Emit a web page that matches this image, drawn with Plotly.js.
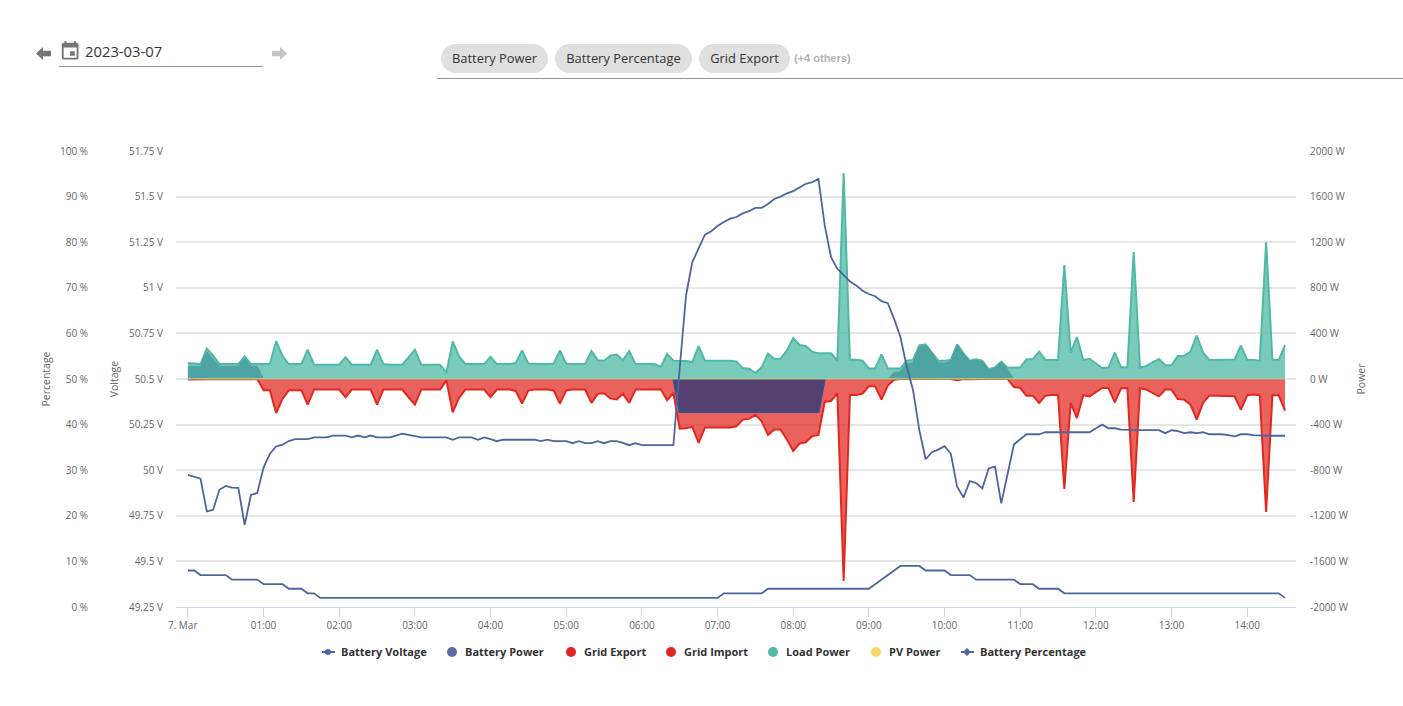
<!DOCTYPE html>
<html>
<head>
<meta charset="utf-8">
<title>Battery chart</title>
<script src="https://cdn.plot.ly/plotly-3.0.1.min.js"></script>
<style>
html,body{margin:0;padding:0;background:#fff;width:1403px;height:706px;overflow:hidden;font-family:"Open Sans",sans-serif;}
#chart{position:absolute;left:0;top:0;width:1403px;height:706px;}
.abs{position:absolute;z-index:5;}
.chip{position:absolute;top:44px;height:29px;line-height:29px;border-radius:15px;background:#e0e0e0;color:#333;font-size:12.9px;text-align:center;z-index:5;}
</style>
</head>
<body>
<div id="chart"></div>
<svg class="abs" style="left:36px;top:47px" width="15" height="13" viewBox="0 0 15 14" preserveAspectRatio="none"><polygon points="0,7 7,0 7,4 15,4 15,10 7,10 7,14" fill="#757575"/></svg>
<svg class="abs" style="left:59px;top:40px" width="22.3" height="22.3" viewBox="0 0 24 24"><path fill="#757575" d="M17 12h-5v5h5v-5zM16 1v2H8V1H6v2H5c-1.11 0-1.99.9-1.99 2L3 19c0 1.1.89 2 2 2h14c1.1 0 2-.9 2-2V5c0-1.1-.9-2-2-2h-1V1h-2zm3 18H5V8h14v11z"/></svg>
<div class="abs" style="left:85px;top:40px;font-size:14.8px;line-height:22px;color:#333">2023-03-07</div>
<div class="abs" style="left:59px;top:66px;width:204px;height:1px;background:#949494"></div>
<svg class="abs" style="left:272px;top:47px" width="15" height="13" viewBox="0 0 15 14" preserveAspectRatio="none"><polygon points="15,7 8,0 8,4 0,4 0,10 8,10 8,14" fill="#c4c4c4"/></svg>
<div class="chip" style="left:441px;width:107px">Battery Power</div>
<div class="chip" style="left:555px;width:137px">Battery Percentage</div>
<div class="chip" style="left:699px;width:91px">Grid Export</div>
<div class="abs" style="left:794px;top:50px;font-family:'Liberation Sans',sans-serif;font-weight:700;font-size:11px;line-height:16px;color:#b4b4b4">(+4 others)</div>
<div class="abs" style="left:437px;top:78px;width:966px;height:1px;background:#949494"></div>
<script>
const startTime = '2023-03-07T00:00:00';

const batteryVoltage = [
49.974,49.965,49.954,49.774,49.783,49.893,49.914,49.904,49.903,49.70,
49.864,49.875,50.015,50.09,50.13,50.14,50.16,50.17,50.17,50.17,
50.18,50.18,50.18,50.19,50.19,50.19,50.18,50.19,50.18,50.19,
50.18,50.18,50.18,50.19,50.2,50.194,50.188,50.18,50.18,50.18,
50.18,50.18,50.167,50.18,50.18,50.18,50.167,50.18,50.17,50.159,
50.167,50.167,50.167,50.167,50.167,50.167,50.159,50.167,50.159,50.159,
50.159,50.148,50.159,50.148,50.148,50.159,50.148,50.159,50.159,50.15,
50.137,50.148,50.137,50.137,50.137,50.137,50.137,50.137,50.56,50.958,
51.141,51.214,51.291,51.31,51.339,51.361,51.379,51.388,51.408,51.42,
51.438,51.438,51.46,51.487,51.5,51.518,51.53,51.55,51.57,51.579,
51.597,51.342,51.168,51.104,51.07,51.035,51.013,50.984,50.966,50.954,
50.927,50.916,50.83,50.73,50.567,50.44,50.22,50.06,50.099,50.113,
50.132,50.09,49.909,49.85,49.94,49.93,49.9,50.01,50.02,49.818,
49.98,50.141,50.17,50.197,50.197,50.197,50.208,50.208,50.208,50.208,
50.208,50.208,50.208,50.208,50.23,50.25,50.23,50.23,50.222,50.22,
50.22,50.22,50.22,50.22,50.22,50.203,50.219,50.214,50.203,50.208,
50.203,50.208,50.197,50.197,50.197,50.192,50.186,50.197,50.197,50.192,
50.189,50.189,50.189,50.189,50.189];

const loadPower = [
140,134,131,266,204,131,131,131,131,199,
131,131,131,131,330,204,131,131,131,257,
128,126,126,126,126,190,126,126,126,126,
257,131,126,126,126,190,257,126,126,126,
126,53,330,199,131,131,131,131,195,131,
131,131,140,250,135,131,131,131,135,250,
135,131,131,131,245,165,160,205,215,165,
245,131,131,131,131,108,219,161,161,158,
149,289,161,161,161,164,161,155,96,91,
53,102,222,178,178,251,359,298,289,240,
225,225,225,161,1807,169,169,161,93,93,
216,93,93,93,161,167,295,304,231,161,
161,167,304,225,161,173,161,85,102,152,
99,99,102,173,173,240,167,167,167,1000,
231,368,167,178,137,96,102,231,102,102,
1114,99,114,146,175,120,120,201,204,240,
380,231,167,167,167,172,172,292,167,167,
161,1201,167,167,298];

const gridImport = [
-4,-3,0,0,0,0,0,0,-2,-4,
-3,0,-99,-99,-298,-175,-99,-99,-99,-225,
-93,-93,-93,-93,-93,-160,-93,-93,-93,-93,
-225,-93,-93,-93,-93,-160,-225,-93,-93,-93,
-93,-12,-292,-166,-93,-93,-93,-93,-160,-93,
-93,-93,-105,-215,-100,-93,-93,-93,-100,-215,
-100,-93,-93,-93,-210,-130,-125,-170,-180,-130,
-210,-93,-93,-93,-93,-90,-187,-123,-435,-432,
-420,-560,-426,-426,-426,-428,-426,-415,-356,-350,
-315,-371,-490,-444,-444,-531,-631,-566,-555,-502,
-490,-199,-193,-123,-1771,-140,-140,-128,-64,-64,
-181,-58,-6,0,0,0,-4,-4,0,0,
0,0,-10,0,-3,0,0,0,0,0,
0,-70,-79,-146,-146,-210,-146,-140,-140,-965,
-210,-342,-143,-152,-114,-79,-79,-204,-82,-82,
-1079,-82,-93,-123,-152,-93,-93,-175,-181,-225,
-356,-210,-146,-146,-146,-152,-152,-269,-143,-137,
-143,-1167,-143,-143,-277];

const batteryPower = [
111,111,111,240,180,111,111,111,111,180,
111,111,0,0,0,0,0,0,0,0,
0,0,0,0,0,0,0,0,0,0,
0,0,0,0,0,0,0,0,0,0,
0,0,0,0,0,0,0,0,0,0,
0,0,0,0,0,0,0,0,0,0,
0,0,0,0,0,0,0,0,0,0,
0,0,0,0,0,0,0,0,-290,-290,
-290,-290,-290,-290,-290,-290,-290,-290,-290,-290,
-290,-290,-290,-290,-290,-290,-290,-290,-290,-290,
-290,0,0,0,0,0,0,0,0,0,
0,0,58,64,135,140,280,295,225,140,
140,155,295,220,155,165,150,76,93,145,
82,0,0,0,0,0,0,0,0,0,
0,0,0,0,0,0,0,0,0,0,
0,0,0,0,0,0,0,0,0,0,
0,0,0,0,0,0,0,0,0,0,
0,0,0,0,0];

const batteryPercentage = [
8,8,7,7,7,7,7,6,6,6,
6,6,5,5,5,5,4,4,4,3,
3,2,2,2,2,2,2,2,2,2,
2,2,2,2,2,2,2,2,2,2,
2,2,2,2,2,2,2,2,2,2,
2,2,2,2,2,2,2,2,2,2,
2,2,2,2,2,2,2,2,2,2,
2,2,2,2,2,2,2,2,2,2,
2,2,2,2,2,3,3,3,3,3,
3,3,4,4,4,4,4,4,4,4,
4,4,4,4,4,4,4,4,4,5,
6,7,8,9,9,9,9,8,8,8,
8,7,7,7,7,6,6,6,6,6,
6,6,5,5,5,4,4,4,4,3,
3,3,3,3,3,3,3,3,3,3,
3,3,3,3,3,3,3,3,3,3,
3,3,3,3,3,3,3,3,3,3,
3,3,3,3,2];

const pvPower = [
3,3,3,3,3,3,3,3,3,3,3,3,3,3,3,3,3,3,3,3,3,3,3,3,3,
3,3,3,3,3,3,3,3,3,3,3,3,3,3,3,3,3,3,3,3,3,3,3,3,3,
3,3,3,3,3,3,3,3,3,3,3,3,3,3,3,3,3,3,3,3,3,3,3,3,3,
3,3,3,3,3,3,3,3,3,3,3,3,3,3,3,3,3,3,3,3,3,3,3,3,3,
3,3,3,3,3,3,3,3,3,3,3,3,3,3,3,3,3,3,3,3,3,3,3,3,3,
3,3,3,3,3,3,3,3,3,3,3,3,3,3,3,3,3,3,3,3,3,3,3,3,3,
3,3,3,3,3,3,3,3,3,3,3,3,3,3,3,3,3,3,3,3,3,3,3,3,3];

const powerTicks = [2000,1600,1200,800,400,0,-400,-800,-1200,-1600,-2000];
const powerLabels = ['2000 W','1600 W','1200 W','800 W','400 W','0 W','-400 W','-800 W','-1200 W','-1600 W','-2000 W'];
const voltageTicks = [51.75,51.5,51.25,51,50.75,50.5,50.25,50,49.75,49.5,49.25];
const voltageLabels = ['51.75 V','51.5 V','51.25 V','51 V','50.75 V','50.5 V','50.25 V','50 V','49.75 V','49.5 V','49.25 V'];
const percentTicks = [100,90,80,70,60,50,40,30,20,10,0];
const percentLabels = ['100 %','90 %','80 %','70 %','60 %','50 %','40 %','30 %','20 %','10 %','0 %'];
const hourTicks = ['00','01','02','03','04','05','06','07','08','09','10','11','12','13','14'];
const hourLabels = ['7. Mar\u00a0\u00a0\u00a0\u00a0','01:00','02:00','03:00','04:00','05:00','06:00','07:00','08:00','09:00','10:00','11:00','12:00','13:00','14:00'];
const legendNames = ['Battery Voltage','Battery Power','Grid Export','Grid Import','Load Power','PV Power','Battery Percentage'];
const legendColors = ['#4d659e','#5a6da5','#e2261f','#e2261f','#4fb9a6','#f5d76e','#4d659e'];
const legendTextLeft = [341,465,584,684,786,889,980];

const t0 = new Date(startTime + 'Z').getTime();
const times = batteryVoltage.map((_, i) => new Date(t0 + i * 300000).toISOString().slice(0, 19));
const gridExport = times.map(() => 0);

function sideOf(arr, sign) {
  const on = arr.map(v => v * sign > 0);
  return arr.map((v, i) => (on[i] ? v : (on[i - 1] || on[i + 1]) ? 0 : null));
}
const tickFont = {family: '"Open Sans", sans-serif', size: 10, color: '#666666'};
const titleFont = {family: '"Open Sans", sans-serif', size: 10.5, color: '#666666'};

const area = (name, y, line, fill, width) => ({
  type: 'scatter', mode: 'lines', name, x: times, y, yaxis: 'y', showlegend: false,
  line: {color: line, width}, fill: 'tozeroy', fillcolor: fill, hoverinfo: 'x+y'
});
const traces = [
  area('Grid Export', gridExport, 'rgba(226,38,31,0.2)', 'rgba(226,38,31,0.75)', 1),
  area('Grid Import', gridImport, '#e2281f', 'rgba(226,38,31,0.72)', 2),
  area('Load Power', loadPower, '#4fb9a6', 'rgba(79,185,166,0.75)', 2),
  area('Battery Power', sideOf(batteryPower, 1), 'rgba(75,160,160,0.9)', 'rgba(49,137,147,0.6)', 1),
  area('Battery Power', sideOf(batteryPower, -1), '#3e4c8c', 'rgba(33,55,120,0.75)', 2),
  area('PV Power', pvPower, 'rgba(165,205,145,0.95)', 'rgba(245,215,110,0.4)', 1.5),
  {type: 'scatter', mode: 'lines', name: 'Battery Voltage', x: times, y: batteryVoltage, yaxis: 'y2',
   showlegend: false, line: {color: '#4d659e', width: 1.8}},
  {type: 'scatter', mode: 'lines', name: 'Battery Percentage', x: times, y: batteryPercentage, yaxis: 'y3',
   showlegend: false, line: {color: '#4d659e', width: 1.8}}
];

const layout = {
  width: 1403, height: 706, margin: {l: 0, r: 0, t: 0, b: 0, pad: 0},
  paper_bgcolor: '#ffffff', plot_bgcolor: 'rgba(0,0,0,0)', showlegend: true, hovermode: 'x',
  font: {family: '"Open Sans", sans-serif'},
  xaxis: {
    type: 'date', domain: [176 / 1403, 1296 / 1403],
    range: ['2023-03-06 23:50:34', '2023-03-07 14:38:42'],
    tickmode: 'array', tickvals: hourTicks.map(h => '2023-03-07 ' + h + ':00:00'), ticktext: hourLabels,
    ticks: 'outside', ticklen: 9, tickcolor: '#ccd6eb', tickwidth: 1, tickangle: 0,
    showline: true, linecolor: '#ccd6eb', linewidth: 1, showgrid: false, zeroline: false,
    tickfont: tickFont
  },
  yaxis: {
    domain: [1 - 607 / 706, 1 - 151 / 706], range: [-2000, 2000], side: 'right', anchor: 'x',
    tickmode: 'array', tickvals: powerTicks, ticktext: powerLabels,
    ticks: 'outside', ticklen: 11, tickcolor: 'rgba(0,0,0,0)',
    showgrid: true, gridcolor: '#e6e6e6', gridwidth: 1.5, zeroline: false, showline: false,
    tickfont: tickFont, title: {text: 'Power', font: titleFont, standoff: 9}
  },
  yaxis2: {
    domain: [1 - 607 / 706, 1 - 151 / 706], range: [49.25, 51.75], side: 'left', overlaying: 'y', anchor: 'x',
    tickmode: 'array', tickvals: voltageTicks, ticktext: voltageLabels,
    ticks: 'outside', ticklen: 10, tickcolor: 'rgba(0,0,0,0)',
    showgrid: false, zeroline: false, showline: false,
    tickfont: tickFont, title: {text: 'Voltage', font: titleFont, standoff: 8}
  },
  yaxis3: {
    domain: [1 - 607 / 706, 1 - 151 / 706], range: [0, 100], side: 'left', overlaying: 'y',
    anchor: 'free', position: 100 / 1403,
    tickmode: 'array', tickvals: percentTicks, ticktext: percentLabels,
    ticks: 'outside', ticklen: 10, tickcolor: 'rgba(0,0,0,0)',
    showgrid: false, zeroline: false, showline: false,
    tickfont: tickFont, title: {text: 'Percentage', font: titleFont, standoff: 6}
  }
};

legendNames.forEach((name, i) => {
  const key = i === 0 ? 'legend' : 'legend' + (i + 1);
  layout[key] = {
    x: (legendTextLeft[i] - 40) / 1403, xanchor: 'left', y: (706 - 652) / 706, yanchor: 'middle',
    bgcolor: 'rgba(0,0,0,0)', itemsizing: 'trace', itemclick: false, itemdoubleclick: false,
    font: {family: '"Open Sans", sans-serif', size: 11, weight: 700, color: '#333333'}, itemwidth: 30
  };
  const lined = name === 'Battery Voltage' || name === 'Battery Percentage';
  traces.push({
    type: 'scatter', mode: lined ? 'lines+markers' : 'markers', name, x: [null], y: [null], legend: key,
    yaxis: 'y', showlegend: true, hoverinfo: 'skip',
    line: {color: legendColors[i], width: 1.8},
    marker: {color: legendColors[i], size: lined ? 6 : 10,
             symbol: name === 'Battery Percentage' ? 'diamond' : 'circle'}
  });
});

Plotly.newPlot('chart', traces, layout, {displayModeBar: false, responsive: false}).then(() => {
  // The legend symbols sit closer to their labels in the reference than Plotly's minimum item width allows.
  document.querySelectorAll('.legendsymbols').forEach(g => {
    g.setAttribute('transform', 'translate(7,0) ' + (g.getAttribute('transform') || ''));
  });
  document.querySelectorAll('.legendlines path').forEach(p => {
    p.setAttribute('d', 'M21,0h13');
  });
});
</script>
</body>
</html>
